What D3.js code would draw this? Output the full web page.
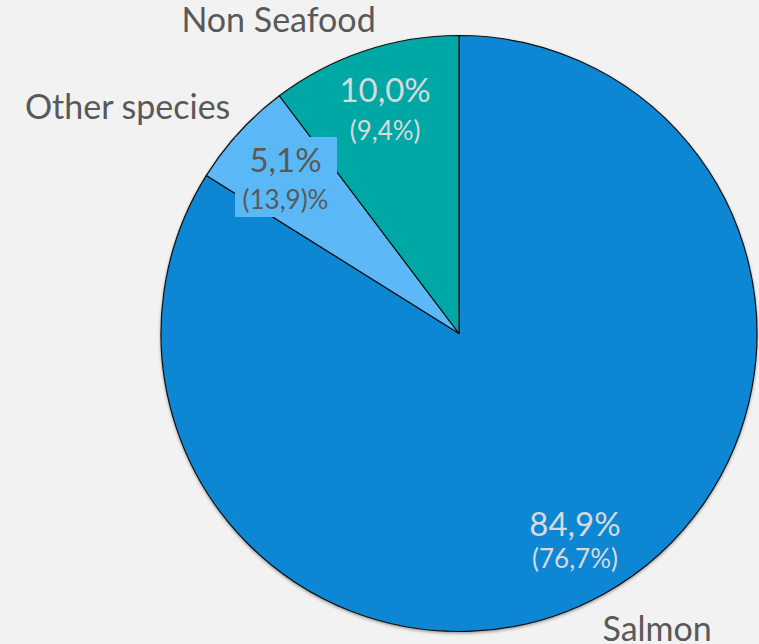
<!DOCTYPE html>
<html><head><meta charset="utf-8">
<script src="https://cdn.jsdelivr.net/npm/d3@7"></script>
<style>html,body{margin:0;padding:0;background:#f2f2f2;}svg{display:block;}</style>
</head><body><div id="chart"></div>
<script>
const categories = ["Salmon", "Other species", "Non Seafood"];
// slice sizes as drawn in the picture (percent)
const shares = [83.9, 5.8, 10.3];
const valueLabels = ["84,9%", "5,1%", "10,0%"];
const priorShares = ["(76,7%)", "(13,9)%", "(9,4%)"];
const colors = ["#0e86d4", "#5bb8f7", "#04a8a5"];

const W = 759, H = 644;
const cx = 459, cy = 333.5, R = 298;
const font = "Lato, 'Open Sans', sans-serif";
// text layout: [angle deg, radius, line gap]
const valuePos = [[150.2, 233.4, 32], [-47.05, 237, 37], [-17.7, 243, 38]];
const catPos = [[147.2, 365.7], [-57.1, 394.7], [-30.9, 351.4]];
const valueColor = ["#d9d9d9", "#595959", "#d9d9d9"];

const svg = d3.select("#chart").append("svg").attr("width", W).attr("height", H);
svg.append("rect").attr("width", W).attr("height", H).attr("fill", "#f2f2f2");
const defs = svg.append("defs");
const f = defs.append("filter").attr("id", "sh").attr("x", "-10%").attr("y", "-10%").attr("width", "120%").attr("height", "120%");
f.append("feDropShadow").attr("dx", 0).attr("dy", 1.5).attr("stdDeviation", 1.5).attr("flood-color", "#000").attr("flood-opacity", 0.35);

const g = svg.append("g").attr("transform", `translate(${cx},${cy})`);

const pie = d3.pie().sort(null).value(d => d.v);
const data = categories.map((c, i) => ({c, v: shares[i], i}));
const arcs = pie(data);
const arc = d3.arc().innerRadius(0).outerRadius(R);

const pg = g.append("g").attr("filter", "url(#sh)");
pg.selectAll("path.slice").data(arcs).enter().append("path")
  .attr("class", "slice")
  .attr("d", arc)
  .attr("fill", d => colors[d.data.i])
  .attr("stroke", "#111").attr("stroke-width", 1.2).attr("stroke-linejoin", "round");

const polar = (deg, r) => { const a = deg * Math.PI / 180; return [r * Math.sin(a), -r * Math.cos(a)]; };

arcs.forEach((d, k) => {
  const [x, y] = polar(valuePos[k][0], valuePos[k][1]);
  const gap = valuePos[k][2];
  const lg = g.append("g").attr("transform", `translate(${x},${y})`);
  if (k === 1) {
    lg.append("rect").attr("x", -50.5).attr("y", -35).attr("width", 102).attr("height", 80).attr("fill", colors[1]);
  }
  lg.append("text").attr("text-anchor", "middle").attr("y", 0)
    .attr("font-family", font).attr("font-size", 33).attr("fill", valueColor[k])
    .text(valueLabels[k]);
  lg.append("text").attr("text-anchor", "middle").attr("y", gap)
    .attr("font-family", font).attr("font-size", 26).attr("fill", valueColor[k])
    .text(priorShares[k]);
});

arcs.forEach((d, k) => {
  const [x, y] = polar(catPos[k][0], catPos[k][1]);
  g.append("text").attr("text-anchor", "middle")
    .attr("x", x).attr("y", y)
    .attr("font-family", font).attr("font-size", 34).attr("fill", "#595959")
    .text(categories[k]);
});
</script></body></html>
